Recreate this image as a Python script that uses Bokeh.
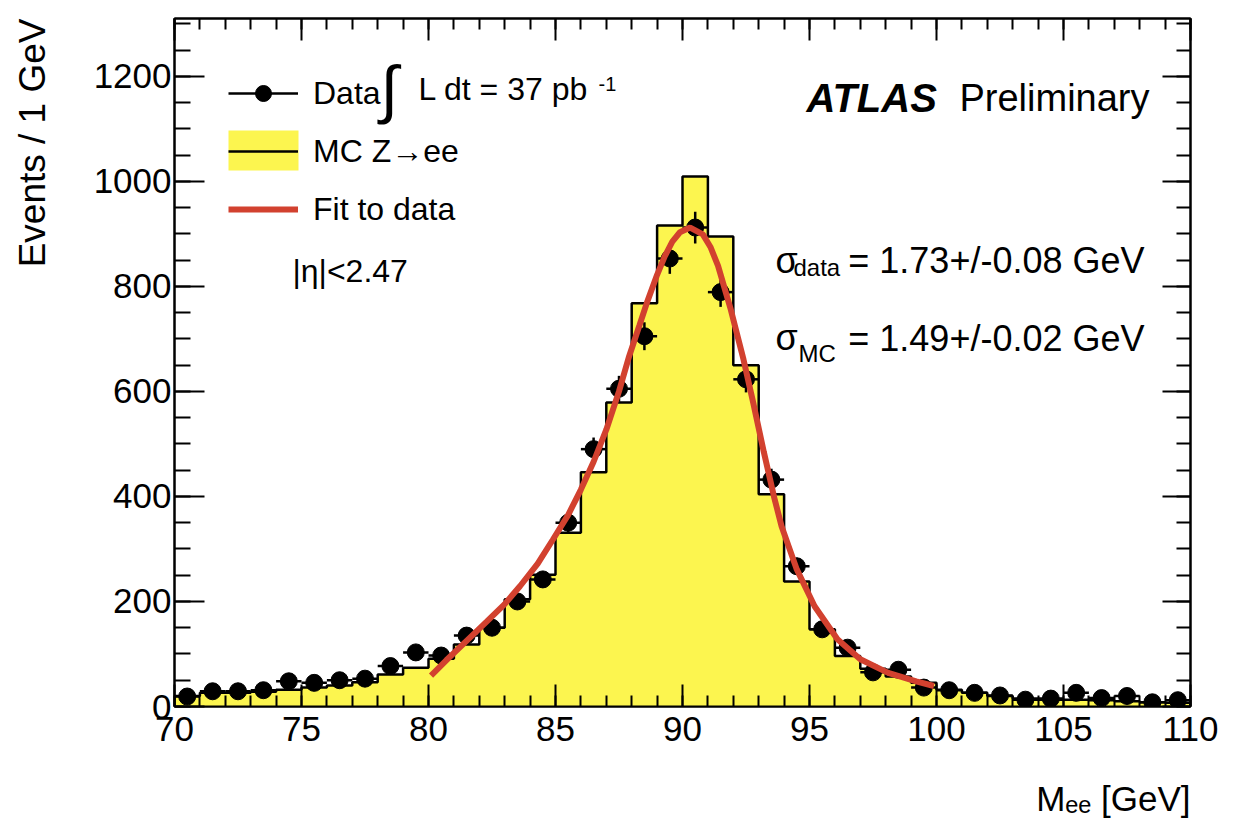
import numpy as np
from bokeh.plotting import figure
from bokeh.models import (Range1d, FixedTicker, LinearAxis, Label, Legend,
                          LegendItem, BoxAnnotation, Title)
from bokeh.embed import file_html
from bokeh.resources import INLINE

# ---------------- data ----------------
bin_edges = list(range(70, 111))          # 1 GeV bins, 70..110 GeV
mc_counts = [20, 26, 26, 28, 32, 36, 40, 46, 61, 74,
             91, 118, 150, 204, 251, 331, 446, 579, 768, 916,
             1009, 895, 650, 404, 238, 147, 96, 72, 57, 45,
             32, 26, 20, 15, 13, 13, 12, 10, 8, 7]
data_counts = [19, 29, 29, 31, 48, 45, 50, 53, 77, 103,
               97, 135, 150, 200, 242, 350, 490, 605, 705, 853,
               912, 789, 623, 432, 267, 147, 112, 65, 70, 36,
               31, 26, 21, 13, 15, 26, 16, 20, 8, 12]
fit_x = [80.1, 80.7, 81.5, 82.3, 83.0, 83.6, 84.3, 84.9, 85.5, 86.0,
         86.5, 87.0, 87.5, 87.9, 88.3, 88.6, 89.0, 89.3, 89.6, 89.9,
         90.3, 90.8, 91.1, 91.4, 91.9, 92.4, 92.8, 93.2, 93.6, 93.9,
         94.5, 95.2, 96.1, 97.0, 98.1, 99.2, 99.9]
fit_y = [59, 88, 125, 162, 195, 229, 272, 318, 365, 413,
         466, 527, 600, 667, 725, 769, 822, 857, 885, 903,
         912, 899, 875, 839, 756, 661, 575, 485, 400, 343,
         261, 191, 128, 90, 64, 48, 39]

x_major = list(range(70, 111, 5))
x_minor = list(range(70, 111, 1))
y_major = list(range(0, 1201, 200))
y_minor = list(range(0, 1301, 50))

YELLOW = "#fcf54f"
RED = "#d2412f"
FONT = "Liberation Sans"

# ---------------- derived arrays ----------------
edges = np.array(bin_edges, dtype=float)
mc = np.array(mc_counts, dtype=float)
dat = np.array(data_counts, dtype=float)
centers = 0.5 * (edges[:-1] + edges[1:])
err = np.sqrt(dat)

step_x = [edges[0]]
step_y = [0.0]
for i in range(len(mc)):
    step_x += [edges[i], edges[i + 1]]
    step_y += [mc[i], mc[i]]
step_x.append(edges[-1])
step_y.append(0.0)

# ---------------- figure ----------------
p = figure(width=1243, height=825, output_backend="svg", toolbar_location=None,
           x_range=Range1d(70, 110), y_range=Range1d(0, 1310),
           min_border_left=174, min_border_right=53,
           min_border_top=18, min_border_bottom=119)
p.background_fill_color = "white"
p.border_fill_color = "white"
p.outline_line_color = "black"
p.outline_line_width = 2
p.grid.visible = False

def style_axis(ax, major, minor, tin, tmin, show_labels, standoff):
    ax.ticker = FixedTicker(ticks=major, minor_ticks=minor)
    ax.major_tick_in = tin
    ax.major_tick_out = 0
    ax.minor_tick_in = tmin
    ax.minor_tick_out = 0
    ax.major_tick_line_width = 2
    ax.minor_tick_line_width = 2
    ax.major_tick_line_color = "black"
    ax.minor_tick_line_color = "black"
    ax.axis_line_color = "black"
    ax.axis_line_width = 2
    ax.major_label_standoff = standoff
    ax.major_label_text_font = FONT
    if show_labels:
        ax.major_label_text_font_size = "35px"
        ax.major_label_text_color = "black"
    else:
        ax.major_label_text_font_size = "0px"
        ax.major_label_text_color = None

xax = p.xaxis[0]
yax = p.yaxis[0]
style_axis(xax, x_major, x_minor, 22, 11, True, 10)
style_axis(yax, y_major, y_minor, 30, 16, True, 3)
top_ax = LinearAxis()
right_ax = LinearAxis()
style_axis(top_ax, x_major, x_minor, 22, 11, False, 0)
style_axis(right_ax, y_major, y_minor, 28, 14, False, 0)
p.add_layout(top_ax, "above")
p.add_layout(right_ax, "right")

# invisible axis labels only reserve room, so the titles sit further out
for ax, gap in ((xax, 28), (yax, 29)):
    ax.axis_label = "."
    ax.axis_label_text_font_size = "5px"
    ax.axis_label_text_color = None
    ax.axis_label_standoff = gap

# axis titles (ROOT style: at the far end of each axis)
x_title = Title(text="M\u2091\u2091 [GeV]", align="right", standoff=0,
                vertical_align="top",
                text_font=FONT, text_font_size="35px",
                text_font_style="normal", text_color="black")
y_title = Title(text="Events / 1 GeV", align="right", standoff=0,
                vertical_align="top",
                text_font=FONT, text_font_size="37px",
                text_font_style="normal", text_color="black")
p.add_layout(x_title, "below")
p.add_layout(y_title, "left")

# ---------------- glyphs ----------------
p.patch(step_x, step_y, fill_color=YELLOW, line_color=None)
mc_line = p.line(step_x, step_y, line_color="black", line_width=2.5)
hbar = p.segment(x0=centers - 0.5, x1=centers + 0.5, y0=dat, y1=dat,
                 line_color="black", line_width=2.5)
p.segment(x0=centers, x1=centers, y0=dat - err, y1=dat + err,
          line_color="black", line_width=2.5)
pts = p.scatter(centers, dat, size=17, color="black")
fit = p.line(fit_x, fit_y, line_color=RED, line_width=6)

# ---------------- legend ----------------
p.add_layout(BoxAnnotation(left=54, right=124, bottom=536, top=576,
                           left_units="screen", right_units="screen",
                           bottom_units="screen", top_units="screen",
                           fill_color=YELLOW, fill_alpha=1.0, line_color=None))
legend = Legend(items=[LegendItem(label="Data", renderers=[hbar, pts]),
                       LegendItem(label="MC Z\u2192ee", renderers=[mc_line]),
                       LegendItem(label="Fit to data", renderers=[fit])],
                location=(54, 477), orientation="vertical",
                glyph_width=70, glyph_height=40, label_height=40,
                spacing=18, padding=0, margin=0, label_standoff=15,
                border_line_color=None, background_fill_alpha=0,
                label_text_font=FONT, label_text_font_size="32px",
                label_text_color="black")
p.add_layout(legend)

def txt(x, y, s, size, align="left", baseline="alphabetic", style="normal",
        font=FONT):
    p.add_layout(Label(x=x, y=y, x_units="screen", y_units="screen", text=s,
                       text_font=font, text_font_size=size,
                       text_font_style=style, text_align=align,
                       text_baseline=baseline, text_color="black"))

# frame-relative screen coords (origin = bottom-left of frame, y up)
txt(206, 618, "\u222b", "64px", baseline="middle")
txt(244, 618, "L dt = 37 pb", "32px", baseline="middle")
txt(424, 623, "-1", "20px", baseline="middle")
txt(118, 436, "|\u03b7|<2.47", "32px", baseline="middle")

txt(632, 609, "ATLAS", "40px", style="bold italic")
txt(975, 609, "Preliminary", "38px", align="right")

txt(601, 446, "\u03c3", "36px")
txt(619, 439, "data", "24px")
txt(970, 446, "= 1.73+/-0.08 GeV", "36px", align="right")
txt(601, 369, "\u03c3", "36px")
txt(624, 353, "MC", "24px")
txt(970, 368, "= 1.49+/-0.02 GeV", "36px", align="right")

open("out.html", "w").write(file_html(p, INLINE))
